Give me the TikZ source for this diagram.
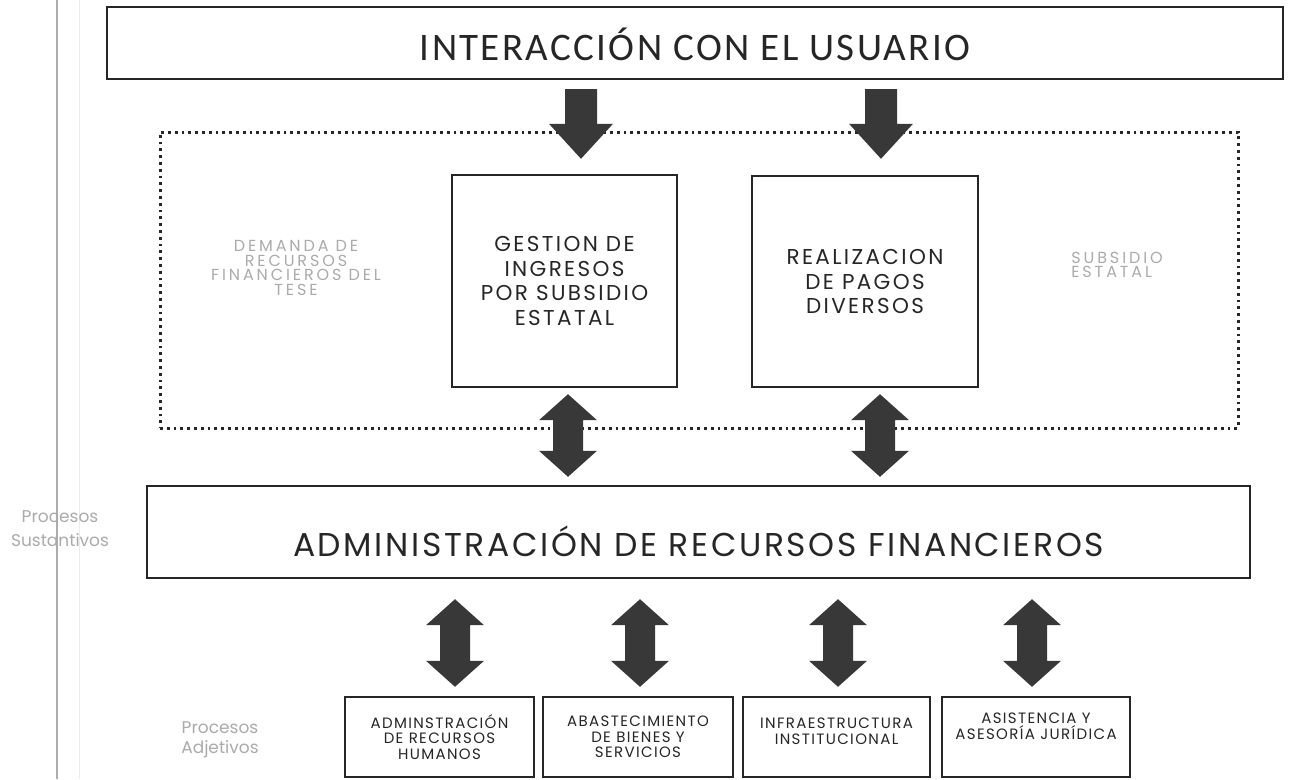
\documentclass[tikz,border=0pt]{standalone}
\usepackage{fontspec}
\setmainfont{Poppins}
\newfontfamily\carl{Carlito}
\usetikzlibrary{calc}
\definecolor{ink}{HTML}{262626}
\definecolor{arr}{HTML}{383838}
\definecolor{faint}{HTML}{ABABAB}
\begin{document}
\begin{tikzpicture}[x=1pt,y=-1pt,
  box/.style={draw=ink,line width=2.4pt,inner sep=0pt,align=center,text=ink},
  dotbox/.style={draw=ink,line width=3pt,dash pattern=on 2.8pt off 4pt,inner sep=0pt},
  midtxt/.style={font=\fontsize{21.5}{24.5}\selectfont\addfontfeatures{LetterSpace=11}},
  smalltxt/.style={font=\fontsize{15}{15.5}\selectfont\addfontfeatures{LetterSpace=9}},
  ghost/.style={text=faint,align=center,inner sep=0pt},
  ghostcaps/.style={ghost,font=\fontsize{16}{14.8}\selectfont\addfontfeatures{LetterSpace=18}},
  dbl/.style={to path={let \p1=(\tikztostart), \p2=(\tikztotarget) in
    (\x1,\y1) -- (\x1+29pt,\y1-26pt) -- (\x1+15pt,\y1-26pt) -- (\x1+15pt,\y2+26pt)
    -- (\x1+29pt,\y2+26pt) -- (\x1,\y2) -- (\x1-29pt,\y2+26pt) -- (\x1-15pt,\y2+26pt)
    -- (\x1-15pt,\y1-26pt) -- (\x1-29pt,\y1-26pt) -- cycle}},
  down/.style={to path={let \p1=(\tikztostart), \p2=(\tikztotarget) in
    (\x1-16pt,\y1) -- (\x1+16pt,\y1) -- (\x1+16pt,\y2+35pt) -- (\x1+32pt,\y2+35pt)
    -- (\x1,\y2) -- (\x1-32pt,\y2+35pt) -- (\x1-16pt,\y2+35pt) -- cycle}}
]
\useasboundingbox (0,0) rectangle (1311,779);
\fill[white] (0,0) rectangle (1311,779);
% margin line
\draw[gray!65,line width=1.8pt] (57,0) -- (57,779);
\draw[gray!15,line width=1pt] (79,0) -- (79,779);

% top box
\node[box,minimum width=1176,minimum height=72] (top) at (695,43) {};
\node[text=ink,font=\carl\fontsize{39}{44}\selectfont\addfontfeatures{LetterSpace=6}] (toptxt) at (695,44) {INTERACCIÓN CON EL USUARIO};

% dotted zone
\node[dotbox,minimum width=1078,minimum height=296] (zone) at (699,280) {};

% inner boxes
\node[box,midtxt,minimum width=225,minimum height=212] (gest) at (564.5,281)
  {GESTION DE\\INGRESOS\\POR SUBSIDIO\\ESTATAL};
\node[box,midtxt,minimum width=226,minimum height=211] (real) at (865,281.5)
  {REALIZACION\\DE PAGOS\\DIVERSOS};

% ghost labels
\node[ghostcaps] (dem) at (296,268)
  {DEMANDA DE\\RECURSOS\\FINANCIEROS DEL\\TESE};
\node[ghostcaps,align=left] (subs) at (1117,265)
  {SUBSIDIO\\ESTATAL};
\node[ghost,font=\fontsize{17}{24}\selectfont] (sust) at (60,529) {Procesos\\Sustantivos};
\node[ghost,font=\fontsize{17}{20}\selectfont] (adj) at (220,740) {Procesos\\Adjetivos};

% admin box
\node[box,minimum width=1103,minimum height=92] (admin) at (698.5,532) {};
\node[text=ink,font=\fontsize{33}{38}\selectfont\addfontfeatures{LetterSpace=8}] (admintxt) at (698.5,541)
  {ADMINISTRACIÓN DE RECURSOS FINANCIEROS};

% bottom boxes
\node[box,smalltxt,minimum width=189,minimum height=80] (b1) at (439.5,737)
  {ADMINSTRACIÓN\\DE RECURSOS\\HUMANOS};
\node[box,smalltxt,minimum width=190,minimum height=80] (b2) at (638,737)
  {ABASTECIMIENTO\\DE BIENES Y\\SERVICIOS};
\node[box,minimum width=187,minimum height=80] (b3) at (836.5,737) {};
\node[smalltxt,text=ink,align=center] (b3t) at (836.5,731) {INFRAESTRUCTURA\\INSTITUCIONAL};
\node[box,minimum width=188,minimum height=80] (b4) at (1036,737) {};
\node[smalltxt,text=ink,align=center] (b4t) at (1036,726) {ASISTENCIA Y\\ASESORÍA JURÍDICA};

% down arrows from top box
\coordinate (d1a) at ($(top.south -| gest.north)+(16.5,9)$);
\coordinate (d1b) at ($(gest.north)+(16.5,-15)$);
\coordinate (d2a) at ($(top.south -| real.north)+(16,9)$);
\coordinate (d2b) at ($(real.north)+(16,-16)$);
\fill[arr] (d1a) to[down] (d1b);
\fill[arr] (d2a) to[down] (d2b);

% double arrows middle
\coordinate (m1a) at ($(gest.south)+(3.5,6)$);
\coordinate (m1b) at ($(gest.south |- admin.north)+(3.5,-8)$);
\coordinate (m2a) at ($(real.south)+(15,6)$);
\coordinate (m2b) at ($(real.south |- admin.north)+(15,-8)$);
\fill[arr] (m1a) to[dbl] (m1b);
\fill[arr] (m2a) to[dbl] (m2b);

% double arrows bottom
\foreach \b/\dx in {b1/15.5,b2/2,b3/1.5,b4/-4}{
  \coordinate (\b a) at ($(admin.south -| \b.north)+(\dx,20)$);
  \coordinate (\b b) at ($(\b.north)+(\dx,-9)$);
  \fill[arr] (\b a) to[dbl] (\b b);
}
\end{tikzpicture}
\end{document}
